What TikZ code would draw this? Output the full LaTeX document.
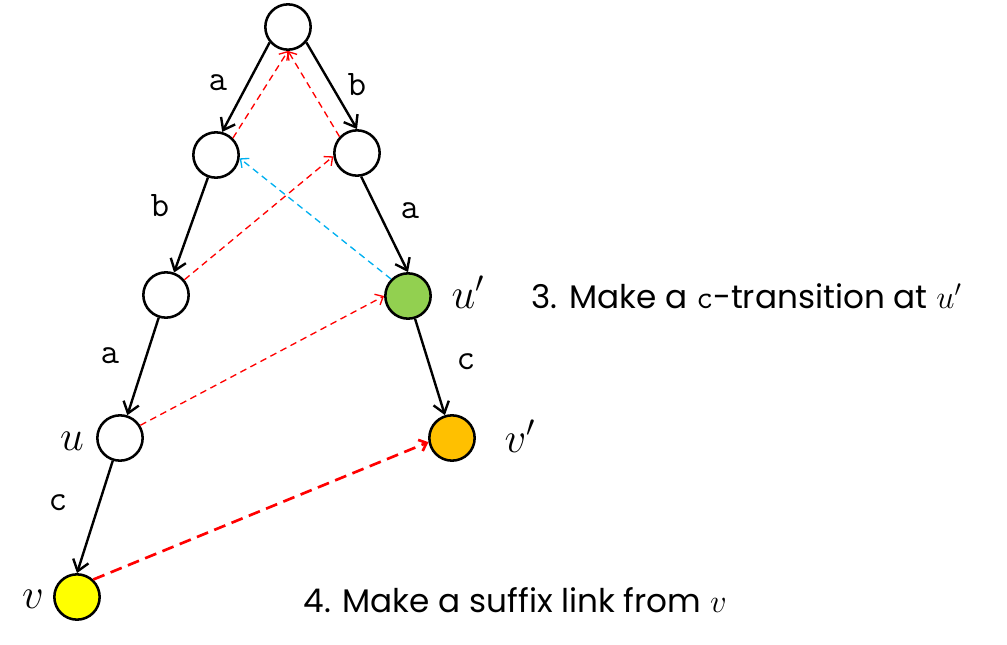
\RequirePackage{fix-cm}
\documentclass[tikz,border=0pt]{standalone}
\usepackage{amsmath,amssymb}
\usepackage{fontspec}
\setmainfont{Poppins}
\usepackage{tikz}
\usetikzlibrary{arrows.meta}
\definecolor{rouge}{RGB}{255,0,0}
\definecolor{bleu}{RGB}{0,176,240}
\definecolor{vert}{RGB}{146,208,80}
\definecolor{orange}{RGB}{255,192,0}
\definecolor{jaune}{RGB}{255,255,0}

\begin{document}
\begin{tikzpicture}[x=0.75pt,y=-0.75pt]
	% STYLES
	\tikzstyle{etat} = [circle, draw=black, line width=1.9pt, fill=white, minimum size=34pt, inner sep=0pt]
	\tikzstyle{transition} = [line width=1.8pt, draw=black, -{Straight Barb[length=8pt,width=12pt]}]
	\tikzstyle{suffixe} = [line width=1pt, draw=rouge, dash pattern=on 5pt off 3.5pt, -{Straight Barb[length=5pt,width=9pt]}]
	\tikzstyle{lettre} = [font=\fontsize{27}{30}\selectfont\ttfamily]
	\tikzstyle{nom} = [font=\fontsize{32}{36}\selectfont]
	\tikzstyle{texte} = [anchor=west, font=\fontsize{24.5}{28}\selectfont]

	\useasboundingbox (0,0) rectangle (1007,645);

	% NOEUDS
	\node[etat] (R) at (288,27) {};
	\node[etat] (A) at (216,155) {};
	\node[etat] (B) at (357,153) {};
	\node[etat] (AB) at (166,295) {};
	\node[etat, fill=vert] (Up) at (408,296) {};
	\node[etat] (U) at (120,438) {};
	\node[etat, fill=orange] (Vp) at (452,438) {};
	\node[etat, fill=jaune] (V) at (77,597) {};

	\node[nom] (nU) at (72,441) {$u$};
	\node[nom] (nUp) at (468,292) {$u'$};
	\node[nom] (nVp) at (520,436) {$v'$};
	\node[nom] (nV) at (33,599) {$v$};

	% TRANSITIONS
	\path[transition] (R.220) -- (A.75);
	\path[transition] (R.-40) -- (B.north);
	\path[transition] (A) -- (AB);
	\path[transition] (B.-80) -- (Up.north);
	\path[transition] (AB) -- (U);
	\path[transition] (Up) -- (Vp);
	\path[transition] (U) -- (V.north);

	\node[lettre] (la1) at (218,83) {a};
	\node[lettre] (lb1) at (357,85) {b};
	\node[lettre] (lb2) at (160,206) {b};
	\node[lettre] (la2) at (410,211) {a};
	\node[lettre] (la3) at (110,356) {a};
	\node[lettre] (lc1) at (466,362) {c};
	\node[lettre] (lc2) at (58,503) {c};

	% LIENS SUFFIXES
	\path[suffixe] (A.45) -- (R.south);
	\path[suffixe] (B.137) -- (R.south);
	\path[suffixe] (AB) -- (B.188);
	\path[suffixe, draw=bleu] (Up.135) -- (A.-8);
	\path[suffixe] (U.32) -- (Up.west);
	\path[suffixe, line width=2pt, dash pattern=on 9pt off 5pt] (V.47) -- (Vp.190);

	% TEXTES
	\node[texte] (t3) at (527,296) {3. Make a \texttt{c}-transition at $u'$};
	\node[texte] (t4) at (299,600) {4. Make a suffix link from $v$};
\end{tikzpicture}
\end{document}
